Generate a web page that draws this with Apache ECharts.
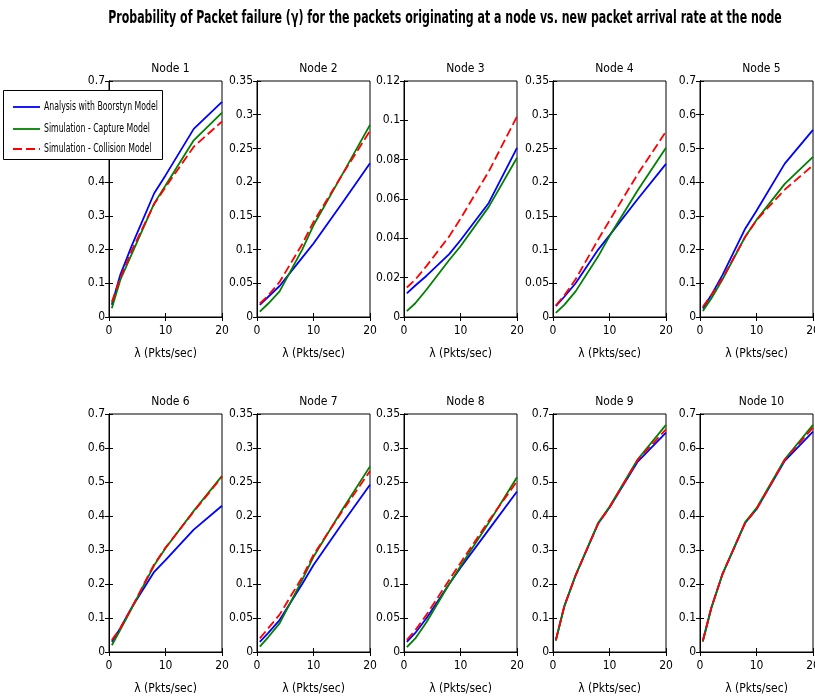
<!DOCTYPE html>
<html>
<head>
<meta charset="utf-8">
<script src="https://cdn.jsdelivr.net/npm/echarts@6/dist/echarts.min.js"></script>
<style>
  html, body { margin: 0; padding: 0; background: #fff; }
  #chart { width: 815px; height: 700px; }
</style>
</head>
<body>
<div id="chart"></div>
<script>
// arrival rate samples (Pkts/sec)
const lambda = [0.5, 2, 4, 8, 10, 15, 20];

const nodeNames = ['Node 1', 'Node 2', 'Node 3', 'Node 4', 'Node 5',
                   'Node 6', 'Node 7', 'Node 8', 'Node 9', 'Node 10'];
const yMax  = [0.7, 0.35, 0.12, 0.35, 0.7, 0.7, 0.35, 0.35, 0.7, 0.7];
const yStep = [0.1, 0.05, 0.02, 0.05, 0.1, 0.1, 0.05, 0.05, 0.1, 0.1];
const xTicks = { min: 0, max: 20, interval: 10 };

// Analysis with Boorstyn Model
const boorstyn = [
  [0.036, 0.125, 0.21, 0.367, 0.42, 0.558, 0.638],
  [0.018, 0.03, 0.046, 0.088, 0.109, 0.168, 0.228],
  [0.012, 0.016, 0.021, 0.032, 0.039, 0.058, 0.086],
  [0.016, 0.03, 0.05, 0.1, 0.121, 0.175, 0.227],
  [0.025, 0.065, 0.125, 0.262, 0.315, 0.455, 0.555],
  [0.03, 0.07, 0.13, 0.236, 0.27, 0.36, 0.43],
  [0.015, 0.028, 0.047, 0.1, 0.128, 0.188, 0.246],
  [0.015, 0.028, 0.05, 0.1, 0.124, 0.18, 0.236],
  [0.035, 0.135, 0.225, 0.378, 0.425, 0.56, 0.645],
  [0.033, 0.13, 0.23, 0.38, 0.42, 0.562, 0.648]
];
// Simulation - Capture Model
const capture = [
  [0.026, 0.11, 0.186, 0.337, 0.39, 0.524, 0.606],
  [0.008, 0.02, 0.038, 0.1, 0.136, 0.21, 0.285],
  [0.003, 0.007, 0.014, 0.029, 0.036, 0.056, 0.081],
  [0.006, 0.018, 0.038, 0.09, 0.12, 0.188, 0.251],
  [0.018, 0.055, 0.112, 0.238, 0.288, 0.395, 0.475],
  [0.02, 0.065, 0.128, 0.255, 0.305, 0.415, 0.518],
  [0.008, 0.022, 0.042, 0.106, 0.14, 0.208, 0.273],
  [0.007, 0.02, 0.044, 0.1, 0.126, 0.19, 0.257],
  [0.033, 0.133, 0.226, 0.38, 0.427, 0.567, 0.668],
  [0.03, 0.128, 0.23, 0.382, 0.423, 0.567, 0.668]
];
// Simulation - Collision Model
const collision = [
  [0.045, 0.115, 0.196, 0.335, 0.385, 0.505, 0.58],
  [0.02, 0.032, 0.052, 0.108, 0.141, 0.21, 0.276],
  [0.015, 0.019, 0.026, 0.041, 0.05, 0.074, 0.102],
  [0.017, 0.032, 0.056, 0.115, 0.143, 0.212, 0.275],
  [0.03, 0.065, 0.115, 0.238, 0.287, 0.378, 0.45],
  [0.035, 0.07, 0.13, 0.258, 0.307, 0.413, 0.515],
  [0.02, 0.035, 0.055, 0.11, 0.143, 0.206, 0.266],
  [0.018, 0.032, 0.055, 0.106, 0.131, 0.193, 0.251],
  [0.035, 0.135, 0.225, 0.378, 0.425, 0.565, 0.655],
  [0.033, 0.13, 0.23, 0.38, 0.42, 0.565, 0.66]
];

const seriesNames = ['Analysis with Boorstyn Model', 'Simulation - Capture Model', 'Simulation - Collision Model'];
const seriesColors = ['#0000ff', '#008000', '#ff0000'];
const seriesDash = ['solid', 'solid', [9, 4]];

const FONT = "'DejaVu Sans Condensed', 'Liberation Sans', sans-serif";
const colLeft = [109, 257, 404, 553, 700];
const boxW = 113;
const rowTop = [81, 414];
const boxH = [236, 238];

const chart = echarts.init(document.getElementById('chart'));

const grids = [], xAxes = [], yAxes = [], series = [], titles = [];

nodeNames.forEach((name, i) => {
  const row = Math.floor(i / 5), col = i % 5;
  const left = colLeft[col], top = rowTop[row];
  // outerBoundsMode 'none': keep the exact box even if the last label runs off the page
  grids.push({ left: left, top: top, width: boxW, height: boxH[row], show: true, borderColor: '#000', borderWidth: 1,
               backgroundColor: '#fff', outerBoundsMode: 'none', containLabel: false });

  titles.push({
    text: name, left: left + boxW / 2, top: top - 23, textAlign: 'center',
    textStyle: { fontFamily: FONT, fontSize: 12, fontWeight: 'normal', color: '#000' }
  });

  const tick = { show: true, inside: true, length: 4, lineStyle: { color: '#000' } };
  // bottom (labelled) and top (ticks only) x axes
  xAxes.push({
    gridIndex: i, type: 'value', min: xTicks.min, max: xTicks.max, interval: xTicks.interval,
    name: '\u03bb (Pkts/sec)', nameLocation: 'middle', nameGap: 31,
    nameTextStyle: { fontFamily: FONT, fontSize: 12, color: '#000' },
    axisLine: { show: true, lineStyle: { color: '#000' } }, axisTick: tick,
    axisLabel: { fontFamily: FONT, fontSize: 12, color: '#000', margin: 8 },
    splitLine: { show: false }
  });
  xAxes.push({
    gridIndex: i, type: 'value', position: 'top', min: xTicks.min, max: xTicks.max, interval: xTicks.interval,
    axisLine: { show: true, lineStyle: { color: '#000' } }, axisTick: tick,
    axisLabel: { show: false }, splitLine: { show: false }
  });
  yAxes.push({
    gridIndex: i, type: 'value', min: 0, max: yMax[i], interval: yStep[i],
    axisLine: { show: true, lineStyle: { color: '#000' } }, axisTick: tick,
    axisLabel: { fontFamily: FONT, fontSize: 12, color: '#000', margin: 4 },
    splitLine: { show: false }
  });
  yAxes.push({
    gridIndex: i, type: 'value', position: 'right', min: 0, max: yMax[i], interval: yStep[i],
    axisLine: { show: true, lineStyle: { color: '#000' } }, axisTick: tick,
    axisLabel: { show: false }, splitLine: { show: false }
  });

  [boorstyn[i], capture[i], collision[i]].forEach((vals, k) => {
    series.push({
      name: seriesNames[k], type: 'line', xAxisIndex: i * 2, yAxisIndex: i * 2,
      data: lambda.map((x, j) => [x, vals[j]]),
      symbol: 'none', animation: false, z: 2 + k,
      lineStyle: { color: seriesColors[k], width: 1.8, type: seriesDash[k] },
      itemStyle: { color: seriesColors[k] }
    });
  });
});

// main title and legend box, drawn as graphic text so they can be condensed like the original
const graphics = [{
  type: 'text', x: 445, y: 19, scaleX: 0.72, z: 100,
  style: {
    text: 'Probability of Packet failure (\u03b3) for the packets originating at a node vs. new packet arrival rate at the node',
    fontFamily: FONT, fontSize: 17, fontWeight: 'bold', fill: '#000',
    align: 'center', verticalAlign: 'middle'
  }
}, {
  type: 'rect', z: 100,
  shape: { x: 3.5, y: 90.5, width: 159, height: 69 },
  style: { fill: '#fff', stroke: '#000', lineWidth: 1 }
}];
const legendRows = [107, 129, 149];
seriesNames.forEach((n, k) => {
  graphics.push({
    type: 'line', z: 101,
    shape: { x1: 13, y1: legendRows[k], x2: 40, y2: legendRows[k] },
    style: { stroke: seriesColors[k], lineWidth: 1.8, lineDash: seriesDash[k] === 'solid' ? null : seriesDash[k] }
  });
  graphics.push({
    type: 'text', x: 44, y: legendRows[k], scaleX: 0.72, z: 101,
    style: { text: n, fontFamily: FONT, fontSize: 12, fill: '#000', align: 'left', verticalAlign: 'middle' }
  });
});

chart.setOption({
  animation: false,
  title: titles,
  grid: grids,
  xAxis: xAxes,
  yAxis: yAxes,
  series: series,
  graphic: graphics
});
</script>
</body>
</html>
